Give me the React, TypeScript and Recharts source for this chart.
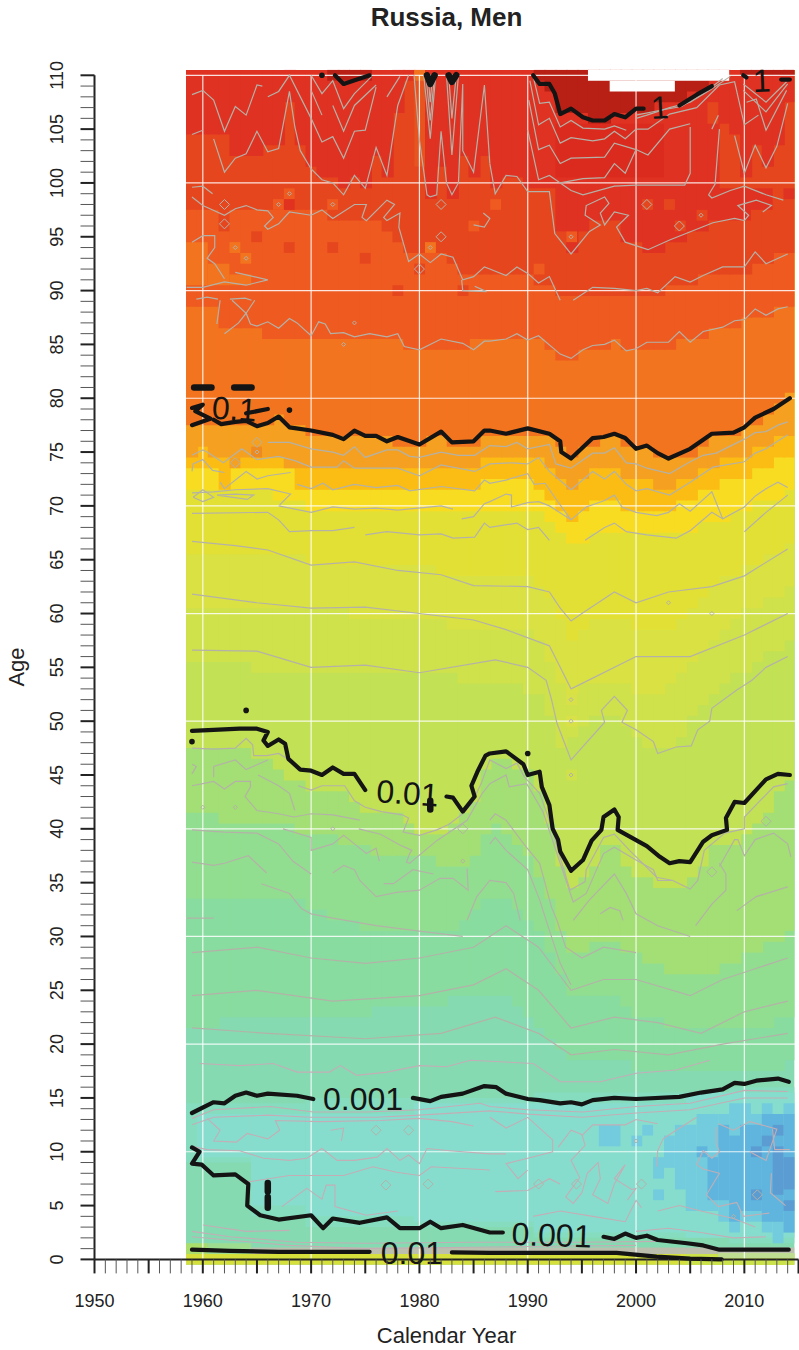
import { CSSProperties } from "react";
import { ReferenceArea, ReferenceLine, Scatter, ScatterChart, XAxis, YAxis } from "recharts";

const sansFont = "'Liberation Sans', Arial, sans-serif";

const yearTicks = Array.from({ length: 66 }, (_, i) => 1950 + i);
const ageTicks = Array.from({ length: 111 }, (_, i) => i);
const gridYears = [1960, 1970, 1980, 1990, 2000, 2010];
const gridAges = [10, 20, 30, 40, 50, 60, 70, 80, 90, 100, 110];

const baseColor = "#85DAB2";
// lower age edge of each colour, one value per year 1959..2014, painted bottom up
const levelColors = [
  "#88DC9F", "#92DE90", "#A3DF74", "#C2E155", "#CFE14B", "#DAE143", "#E3E035", "#F8DC22",
  "#FBBD14", "#F5A020", "#F3741F", "#EE5A20", "#E6461E", "#DF3222", "#B82015",
];
const levelLows = [
  [21.5,21.5,21.5,22.5,22.5,22.5,22.5,22.5,22.5,22.5,22.5, 22.5,22.5,22.5,22.5,22.5,22.5,23.5,23.5,23.5,23.5, 23.5,23.5,23.5,24.5,24.5,24.5,24.5,24.5,24.5,23.5, 22.5,21.5,20.5,19.5,18.5,18.5,18.5,18.5,18.5,18.5, 17.5,17.5,17.5,17.5,17.5,17.5,17.5,17.5,17.5,17.5, 17.5,17.5,17.5,17.5,18.5],
  [33.5,33.5,33.5,33.5,33.5,33.5,33.5,33.5,33.5,33.5,33.5, 32.5,32.5,31.5,31.5,31.5,30.5,30.5,30.5,30.5,30.5, 30.5,30.5,30.5,30.5,31.5,32.5,33.5,33.5,33.5,32.5, 31.5,30.5,28.5,26.5,24.5,24.5,24.5,24.5,24.5,23.5, 22.5,22.5,22.5,21.5,21.5,21.5,21.5,21.5,21.5,21.5, 21.5,21.5,21.5,22.5,22.5],
  [41.5,41.5,41.5,40.5,40.5,40.5,40.5,40.5,40.5,40.5,39.5, 39.5,39.5,39.5,38.5,38.5,38.5,37.5,37.5,37.5,37.5, 37.5,37.5,36.5,36.5,36.5,37.5,39.5,40.5,39.5,38.5, 37.5,35.5,33.5,30.5,28.5,28.5,29.5,29.5,29.5,28.5, 28.5,27.5,27.5,26.5,26.5,26.5,26.5,26.5,27.5,27.5, 28.5,28.5,29.5,29.5,30.5],
  [47.5,47.5,47.5,47.5,47.5,47.5,46.5,46.5,45.5,44.5,44.5, 43.5,43.5,43.5,43.5,42.5,41.5,41.5,41.5,41.5,40.5, 39.5,39.5,39.5,40.5,41.5,42.5,45.5,46.5,46.5,45.5, 45.5,43.5,40.5,36.5,34.5,35.5,36.5,38.5,38.5,36.5, 35.5,35.5,34.5,34.5,34.5,35.5,36.5,38.5,38.5,38.5, 39.5,40.5,41.5,43.5,44.5],
  [55.5,55.5,55.5,55.5,55.5,55.5,54.5,54.5,54.5,54.5,54.5, 54.5,54.5,54.5,54.5,54.5,54.5,54.5,54.5,54.5,54.5, 54.5,54.5,54.5,54.5,53.5,53.5,53.5,53.5,53.5,53.5, 52.5,52.5,50.5,47.5,48.5,49.5,50.5,50.5,50.5,49.5, 48.5,47.5,47.5,47.5,48.5,50.5,51.5,52.5,53.5,54.5, 54.5,55.5,56.5,56.5,57.5],
  [60.5,60.5,60.5,60.5,60.5,60.5,60.5,60.5,60.5,60.5,60.5, 60.5,60.5,60.5,60.5,59.5,59.5,59.5,59.5,59.5,59.5, 59.5,59.5,59.5,58.5,58.5,58.5,58.5,58.5,58.5,58.5, 58.5,57.5,55.5,53.5,52.5,53.5,53.5,53.5,53.5,53.5, 52.5,52.5,52.5,53.5,54.5,55.5,56.5,57.5,58.5,59.5, 60.5,60.5,61.5,61.5,62.5],
  [65.5,65.5,65.5,65.5,65.5,65.5,65.5,65.5,65.5,65.5,65.5, 64.5,64.5,64.5,64.5,64.5,64.5,64.5,64.5,64.5,64.5, 64.5,64.5,63.5,63.5,63.5,63.5,63.5,63.5,63.5,63.5, 63.5,62.5,61.5,59.5,57.5,58.5,59.5,59.5,59.5,59.5, 58.5,58.5,58.5,58.5,59.5,60.5,61.5,62.5,63.5,63.5, 64.5,64.5,65.5,65.5,66.5],
  [71.5,71.5,71.5,71.5,71.5,71.5,71.5,71.5,70.5,70.5,70.5, 69.5,69.5,69.5,69.5,69.5,69.5,69.5,69.5,69.5,69.5, 69.5,69.5,69.5,69.5,69.5,69.5,69.5,69.5,69.5,69.5, 69.5,69.5,68.5,67.5,66.5,66.5,67.5,67.5,67.5,67.5, 67.5,67.5,67.5,67.5,67.5,67.5,68.5,68.5,68.5,69.5, 69.5,70.5,70.5,70.5,71.5],
  [73.5,73.5,73.5,71.5,73.5,73.5,73.5,73.5,73.5,73.5,71.5, 71.5,71.5,71.5,71.5,71.5,71.5,71.5,71.5,71.5,71.5, 71.5,71.5,71.5,71.5,71.5,71.5,72.5,72.5,72.5,72.5, 72.5,71.5,70.5,69.5,68.5,69.5,70.5,70.5,70.5,69.5, 69.5,69.5,69.5,69.5,70.5,70.5,71.5,71.5,72.5,72.5, 72.5,73.5,73.5,74.5,74.5],
  [74.5,75.5,74.5,74.5,74.5,74.5,74.5,74.5,74.5,73.5,73.5, 73.5,73.5,73.5,73.5,73.5,73.5,73.5,73.5,73.5,73.5, 73.5,73.5,73.5,73.5,73.5,73.5,74.5,74.5,74.5,74.5, 74.5,74.5,73.5,72.5,71.5,72.5,73.5,73.5,73.5,72.5, 72.5,72.5,71.5,71.5,72.5,72.5,73.5,73.5,74.5,74.5, 74.5,75.5,75.5,76.5,76.5],
  [77.5,77.5,77.5,77.5,77.5,77.5,77.5,77.5,78.5,77.5,77.5, 76.5,76.5,76.5,76.5,76.5,76.5,76.5,76.5,75.5,75.5, 75.5,76.5,76.5,75.5,75.5,75.5,76.5,76.5,76.5,76.5, 76.5,76.5,76.5,75.5,74.5,75.5,75.5,76.5,76.5,75.5, 75.5,75.5,74.5,74.5,74.5,74.5,75.5,76.5,76.5,76.5, 77.5,77.5,78.5,79.5,80.5],
  [88.5,88.5,88.5,86.5,86.5,86.5,86.5,85.5,85.5,85.5,85.5, 85.5,85.5,85.5,85.5,85.5,85.5,85.5,85.5,85.5,84.5, 84.5,84.5,84.5,84.5,84.5,85.5,85.5,85.5,85.5,85.5, 85.5,85.5,84.5,83.5,83.5,84.5,84.5,84.5,85.5,84.5, 84.5,84.5,84.5,84.5,85.5,85.5,85.5,86.5,86.5,86.5, 87.5,87.5,87.5,88.5,88.5],
  [97.5,97.5,97.5,97.5,97.5,97.5,97.5,97.5,97.5,97.5,97.5, 97.5,97.5,96.5,96.5,96.5,96.5,96.5,95.5,94.5,93.5, 93.5,93.5,93.5,92.5,91.5,91.5,91.5,91.5,91.5,91.5, 91.5,90.5,90.5,89.5,89.5,89.5,89.5,89.5,89.5,89.5, 89.5,89.5,89.5,90.5,90.5,90.5,91.5,91.5,91.5,91.5, 91.5,92.5,92.5,93.5,93.5],
  [104.5,104.5,104.5,104.5,102.5,102.5,102.5,103.5,103.5,107.5,103.5, 101.5,100.5,100.5,99.5,100.5,99.5,102.5,100.5,106.5,109.5, 101.5,98.5,101.5,98.5,102.5,100.5,102.5,99.5,100.5,100.5, 99.5,99.5,99.5,95.5,93.5,95.5,96.5,96.5,96.5,94.5, 94.5,93.5,93.5,94.5,94.5,95.5,95.5,96.5,105.5,104.5, 100.5,103.5,101.5,103.5,107.5],
  [111,111,111,111,111,111,111,111,111,111,111, 111,111,109.5,109.5,109.5,109.5,111,111,111,111, 111,111,111,111,111,111,111,111,111,111, 111,109.5,108.5,106.5,106.5,106.5,105.5,105.5,106.5,106.5, 106.5,106.5,107.5,107.5,107.5,108.5,108.5,109.5,111,111, 110,110,110,110,110],
];

// from year, to year, from age, to age, colour
const heatBlocks: [number, number, number, number, string][] = [
  [1959, 1964, 9, 14.5, "#85DCBE"], [1965, 1969, 4, 14.5, "#85DCBE"], [1970, 1990, 3, 15, "#85DCBE"],
  [1991, 2008, 2, 15.5, "#85DCBE"], [2009, 2014, 1.5, 16, "#85DCBE"],
  [1960, 1964, 9.5, 13.5, "#87DDCD"], [1965, 1969, 5, 13.5, "#87DDCD"], [1970, 1979, 4, 13.5, "#87DDCD"],
  [1980, 1990, 3.5, 14.5, "#87DDCD"], [1991, 2004, 2.5, 14.5, "#87DDCD"], [2005, 2014, 2, 15.5, "#87DDCD"],
  [1959, 1960, 0.5, 1.5, "#A9DE6C"], [1961, 1964, 0.5, 1.5, "#9EDD90"], [1965, 2014, 0.5, 1.1, "#BCBFAE"],
  [1959, 2014, -0.5, 0.5, "#D6E03C"], [2005, 2014, -0.5, 0.5, "#CBE24A"], [2008, 2014, 0.1, 0.6, "#BEDD90"],
  // light blue
  [2002, 2002, 7.5, 9.5, "#72CCDD"], [2003, 2003, 8.5, 11.5, "#72CCDD"], [2004, 2004, 6.5, 12.5, "#72CCDD"],
  [2005, 2005, 4.5, 12.5, "#72CCDD"], [2006, 2007, 4.5, 13.5, "#72CCDD"], [2008, 2008, 3.5, 13.5, "#72CCDD"],
  [2009, 2009, 2.5, 14.5, "#72CCDD"], [2010, 2010, 3.5, 14.5, "#72CCDD"], [2011, 2011, 3.5, 13.5, "#72CCDD"],
  [2012, 2012, 2.5, 14.5, "#72CCDD"], [2013, 2013, 1.5, 13.5, "#72CCDD"], [2014, 2014, 2.5, 14.5, "#72CCDD"],
  [1997, 1998, 10.5, 12.5, "#72CCDD"], [2000, 2000, 10.5, 11.5, "#72CCDD"], [2001, 2001, 11.5, 12.5, "#72CCDD"],
  [2002, 2002, 5.5, 6.5, "#72CCDD"],
  // blue
  [2006, 2006, 9.5, 10.5, "#5FB5DD"], [2007, 2007, 5.5, 9.5, "#5FB5DD"], [2008, 2008, 5.5, 12.5, "#5FB5DD"],
  [2009, 2009, 4.5, 11.5, "#5FB5DD"], [2010, 2010, 4.5, 12.5, "#5FB5DD"], [2011, 2011, 4.5, 12.5, "#5FB5DD"],
  [2012, 2013, 3.5, 13.5, "#5FB5DD"], [2014, 2014, 2.5, 13.5, "#5FB5DD"], [2009, 2009, 3.5, 4.5, "#5FB5DD"],
  // deep blue
  [2012, 2012, 10.5, 11.5, "#5B9DD3"], [2013, 2013, 11.5, 12.5, "#5B9DD3"], [2013, 2013, 6, 10.5, "#5B9DD3"],
  [2014, 2014, 6.5, 9.5, "#5B9DD3"], [2014, 2014, 4.5, 5.5, "#5B9DD3"], [2011, 2011, 9.5, 10.5, "#5B9DD3"],
  [2011, 2011, 5.5, 6.5, "#5B9DD3"],
  // lone cells in the upper ages
  [1959, 1960, 90.5, 94.5, "#F3741F"], [1961, 1962, 90.5, 92.5, "#F3741F"], [1963, 1964, 90.5, 91.5, "#F3741F"],
  [1962, 1962, 97.5, 98.5, "#E6461E"], [1962, 1962, 95.5, 97.5, "#E6461E"], [1965, 1965, 94.5, 95.5, "#E6461E"],
  [1968, 1968, 97.5, 98.5, "#E0321F"], [1968, 1968, 93.5, 94.5, "#E6461E"], [1972, 1972, 93.5, 94.5, "#E6461E"],
  [1975, 1975, 92.5, 93.5, "#E6461E"], [1978, 1978, 89.5, 90.5, "#E6461E"], [1984, 1984, 89.5, 90.5, "#E6461E"],
  [1980, 1980, 91.5, 92.5, "#E6461E"], [1963, 1963, 93.5, 94.5, "#F3741F"], [1964, 1964, 92.5, 93.5, "#F3741F"],
  [1981, 1981, 93.5, 94.5, "#F3741F"], [1985, 1985, 95.5, 96.5, "#EE5A20"],
  [1967, 1967, 97.5, 98.5, "#EE5A20"], [1968, 1968, 98.5, 99.5, "#EE5A20"], [1972, 1972, 97.5, 98.5, "#EE5A20"],
  [1987, 1987, 97.5, 98.5, "#EE5A20"], [1991, 1991, 91.5, 92.5, "#EE5A20"], [1994, 1994, 94.5, 95.5, "#EE5A20"],
  [2001, 2001, 97.5, 98.5, "#E6461E"], [2003, 2003, 97.5, 98.5, "#E6461E"], [2004, 2004, 95.5, 96.5, "#E6461E"],
  [2006, 2006, 96.5, 97.5, "#E6461E"], [2014, 2014, 98.5, 99.5, "#DF3222"],
  [1980, 1980, 101.5, 110.5, "#E85420"], [1980, 1980, 109.5, 110.5, "#F3741F"], [2007, 2007, 105.5, 107.5, "#E6461E"],
  [2008, 2010, 96.5, 99.5, "#DF3222"], [2011, 2012, 97.5, 99.5, "#DF3222"], [1993, 2002, 100.5, 105.5, "#DB2B1E"],
  [1965, 1965, 74.5, 75.5, "#EE8A20"], [1963, 1963, 73.5, 74.5, "#F5A020"],
  [1994, 1994, 51.5, 52.5, "#D8E248"], [1994, 1994, 49.5, 50.5, "#D8E248"], [1994, 1994, 44.5, 45.5, "#CFE14B"],
  // cut off at the top of the surface
  [1996, 2008, 109.5, 110.5, "#FFFFFF"], [1998, 2003, 108.5, 109.5, "#FFFFFF"],
];

// grey contours: flat year, age pairs
const upperContours = [
  [1959,108.2,1960,108.6,1961,107.7,1962,104.8,1963,107.1,1964,106.3,1965,109.1,1965.5,109],
  [1959,104.5,1960,104.9],
  [1961,104.1,1962,101,1963,102.3,1964,102.7,1965,104.8,1966,102.9,1967,103.2,1968,108.5,1968.5,105.2,1969,103,1970,101.3,1971,100.3,1972,100,1973,98.9,1974,100.7,1975,99.5,1976,103.3,1977,100.7,1978,107.2,1979,110],
  [1966,108,1967,108.5,1968,110,1970,106,1971,103.8,1972,104.3,1973,102.3,1974,104.8,1975,104.9,1976,108.9],
  [1970,108.6,1971,106.3],
  [1972,107.2,1973,104.8,1974,107.2,1976,109.1],
  [1970,110,1971,108.3,1972,109.5,1973,106.9,1974,108.3,1975.6,109.9],
  [1977,108,1978.2,109.9],
  [1979.5,110,1980,104,1980.7,98.9,1981,98.7,1981.6,98.9,1982,104.8,1982.5,100,1983,98.9,1983.6,100,1984,109.2,1984,103,1985,101,1986,109.1,1986.5,101.8],
  [1980.4,110,1981,104.1,1981.5,110],
  [1980.6,110,1981,105.8,1981.4,110],
  [1980.8,110,1981,107.5,1981.2,110],
  [1982.5,110,1983,102.6,1983.6,110],
  [1982.7,110,1983,106,1983.4,110],
  [1986.5,101.8,1987,99,1988,100.7,1989,100.6,1990,99.2,1992,99.2,1992.5,95.3,1994,93.4,1995.7,95.5,1996.7,96.1,1995.3,97,1995.4,97.9,1997.1,98.7,1997.5,98.1,1996.7,97.2,1997.1,96.1,1998,97.3,1999.3,97,1998.2,95.9,1999,94.5,2001.1,93.8,2003.1,94.7,2007.1,96.3,2009.1,96.7,2010,96.5,2010.4,97,2009.4,97.9,2011.1,98.4,2012.5,97.9,2011.7,97.3],
  [1994.2,89.1,1996,90.3,1998,90.2,2000,90,2001,90.2,2002,89.8,2003.6,91.3,2005,90.8,2006.2,91.4,2008,92.2,2010,92.2,2011,93.6,2012,92.5,2014,93.4],
  [1990.5,109.9,1991.1,107.4,1992,107.5,1993,105.2,1994,105.8,1995.1,105.1,1997.1,105,1998,105.3,1999.1,104.9],
  [1990.2,109.5,1991,105.4,1992,106,1993,103.7,1994,104.2,1996,103.9,1997.1,104.1,1998,104.8,1999,104.1,2000,105,2001.1,105,2003.1,106.4,2005.6,107,2007.7,109.1,2009.1,109.4,2010,105.4,2011.3,106.3],
  [1990.1,107.7,1991,103.1,1992,103.5,1993,101.8,1994,102.3,1997.1,102.4,1998,103.7,2000,103.1,2001.1,102.6,2003.1,105,2005,105.5],
  [1990,104.9,1991,100.3,1992,100.7,1993,100,1995.1,100.4,1997.1,100.5,1998,101.8,1999,100.9,2000,103.1],
  [2005,105.2,2005,100.9,2004.5,99.8,2000,99.8,1998,99.7,1995.1,98.9,1994,99.3,1993,100],
  [2000,106,2001,106.3,2003.1,107,2005,107.5,2006.8,108.6,2008.7,109.9],
  [2000,106.3,2002.5,106.8,2004.2,107.1,2006.2,108.3,2008,109.7],
  [2007,105,2007.6,106.3],
  [2007.7,105,2007.3,99.9,2006.7,98.9,2007,98.6,2008.7,99.3,2010,99.7,2012,98.9,2013.6,98.4],
  [2009.1,104.4,2010,100.9,2011,103.5,2012,101.4,2013,103.4,2014,107.4],
  [2010.2,107.5,2011.1,107.8,2012,104.9,2013.9,108.6],
  [2009.9,108.6,2012,106.6,2014,109.2],
  [2009.9,109.2,2012,107.5,2013.9,109.4],
  [1959,99.6,1960,99.7,1960.9,99],
  [1959,98.7,1960,97.9,1962,97,1963,97.6,1964,97.9,1965,97.5,1966,97.4,1966.5,96.8,1965.7,96,1966,95.7,1967,96.2,1968,97.3,1970,97,1971,97.5,1972,96.7,1974,98,1975.1,98,1974.7,96.8,1975.1,96.5,1977,98.4,1977.7,98,1976.7,96.8,1977,96.5,1978.2,97.2,1978.1,95.9,1979,92.7,1980,93.4,1981,92.6,1982,93.4,1983.1,93.1,1984,91,1985,91.3,1986,92.2,1986.5,92,1988,91.4,1989,92.2,1990,91.6,1991,90.7,1992,91.3,1993,89.1],
  [1959,94.5,1960,95.1,1961.1,95.1,1961.1,94,1960.4,93,1961.1,92.5,1962,91.1],
  [1958.5,90.3,1960,90.3,1962,90.8,1964,90.5,1966,91,1963,91.7],
  [1983.9,91,1984,90,1986.2,89.9,1985.1,90.4],
  [1985,96.1,1986,95.9,1986.5,96.7,1985.9,97.2],
  [1964.8,89.1,1964,87.9,1964.4,86.9,1965,86.7,1966,87.1,1967,86.5,1968,87.4,1968.7,87,1970,85.8,1970.7,87.1,1971.3,86.9,1971.8,86,1973,86.1,1974,85.7,1975.4,86,1977,85.7,1978,86,1978.6,84.8,1980,84.5,1982,85.5,1984,85.1,1985,84.5,1986,85.3,1986.5,85.3,1988,85.5,1989,86,1990,85.4,1991,85.8,1993,84.1,1994,83.7,1995.1,84.5,1996,84.9,1997.1,85,1998,85.4,1999.1,84.4,2000,84.6,2001,85.2,2003,85.2,2004,86.2,2005,85.2,2006.2,86.2,2008,86.6,2009.1,87.2,2010,87.3,2011,88.3,2012,87.7,2013.1,88.3,2014,88.5],
  [1962,86,1963.3,87,1964,87.9,1962.7,89.1],
  [1961.3,86.9,1961.6,89.1],
  [1959.4,89.2,1960.4,89.4,1961.4,89.2],
  [1962.5,89.2,1963.9,89.3,1964.5,89.1],
  [1966,75.9,1968,75.9,1970,75.3,1972,75,1973,74.7,1974,75.5,1975,74.5,1977,75.2,1978,75.2,1979.1,74.6,1980,74.5,1982,75,1983.6,74.7,1985.1,74.7,1986.5,75.6,1988,75.5,1989,75.9,1990,75.3,1992,75.7,1992.6,73.9,1994,73.5,1996,74.9,1997.1,74.9,1998,75.4,1999.1,74,2000,73.9,2001,73.5,2003.1,73,2005,74.1,2006.2,74.7,2007.4,74.9,2010,76.2,2011,76.8,2012,76.9,2013.1,77.5,2014,77.8],
  [1959,74.7,1960,75.2,1960.4,75,1961.9,74,1963.6,75.3,1965,74.3,1967,74.6,1968.5,74.2,1970,73.6,1972.4,73.6,1973,74.2,1974,73.5,1977,73.5,1978,73.5,1980,72.8,1982,73.8,1985.1,73.2,1986.5,73.9,1988.5,74,1990,73.9,1991,74.5,1992,73.2,1994,71.5,1996,73.2,1997.1,72.5,1998,73.2,1999.1,72,2000,71.4,2001,71.6,2003.1,71,2005,72.2,2007.1,73.6,2010,74.1,2011,74.9,2012,75.3,2014,76.6],
  [1959,73.2,1959.1,73.9,1960,74.3,1960.9,73.3,1962,73.1],
  [1961.6,72.2,1962,71.6,1964,73.2,1965,72.5,1966,72.8,1968.1,73.1],
  [1968.7,72,1970,71.6,1971.1,72.1,1972,71.5,1974,72,1976,71.7,1978,71.9,1979.1,71.4,1982,71.8,1985.1,71.4,1986,72.4,1986.5,72.1,1988,72.4,1990,73,1990.6,72,1991.6,72.1,1992.7,70.5,1994,68.7],
  [1959,71.2,1961,71.3,1963,71.5,1966,71.6,1968.1,71.1,1967.1,70.1],
  [1959.1,70.8,1960,71.5,1961,70.8,1960,70.4,1959.1,70.8],
  [1961.3,71,1963,71.1,1964.7,71,1964.1,70.6,1961.3,71],
  [1967,70,1970,69.4,1972,69.9,1974,69.7,1976,69.8,1978,69.6,1982,70,1983.1,69.7],
  [1959,69.3,1966,69.4,1967,68.7,1968,67.6,1970,67.7,1972,67.7,1974,68],
  [1975,67.3,1977,67.6,1980,67.3,1982,67.4,1983.1,67,1985.1,67.1,1986,68.4,1986.5,68,1989,68.4,1990,67.8,1991,68,1992,66.8],
  [1983.9,68.8,1985,69,1986,70.2,1986.5,70.4,1988,71.1,1988.5,71,1988.5,69.9,1990,70.3,1991,70.4,1992,70,1994,68.7,1995.4,69.9,1997.1,70.5,1998,71,1998.7,69.9,2000,69.4,2001.9,69.1,2003,69.4,2004,70.2,2005,69.5,2007,71.3,2008,68.8,2010,69.9,2011,70.9,2012,71.6,2013.1,72.2,2014,71.7],
  [1995.3,66.8,1997.1,68,1998,68.4,1999.1,67.6,2001,67.3,2003.7,67,2005,67.7,2007,69.4,2008,68.8],
  [2010,67.6,2012,69.4,2014,71],
];

const midContours = [
  [1959,66.7,1963,66.3,1966,65.9,1970,64.5,1974,64.8,1978,64,1982,63.6,1985,62.6,1990,62.5,1992,62,1993,60.5,1994,59.3,1995,60,1998,62,2000,61,2003,62,2007,62.5,2010,63.5,2014,66],
  [1959,61.8,1965,61,1970,60.5,1975,60.6,1980,60,1985,59.4,1988,58.5,1992,57,1993,55,1994,53,1996,54,2000,56,2005,56,2010,58,2014,60],
  [1959,56.6,1965,56.5,1970,55,1975,55.2,1980,54.5,1987,55.7,1990,55,1991.7,53.8,1992.2,52,1992.7,49.8,1994,46.4,1997.1,49.9,1996.8,51,1998,52.3,1999.2,51,1998.7,49.9,2000,49.2,2001.6,48.1,2002,47,2003.7,47.6,2005.1,47.7,2005.7,49.2,2006.8,50,2007,51.2,2009.3,52.9,2010.7,53.8,2012,55,2014,56],
  [1959,47.5,1961,47.4,1963,47.5,1964,48.4,1964.6,47.8,1964.7,46.8,1965.9,46.8,1967,47,1968,46.4],
  [1959,46,1959.4,45.8,1959,45.1],
  [1961,44.8,1961,45.8,1963,46.4,1964,45.5,1966,46.4],
  [1959,44,1960,44.2,1961,44.4,1962,43.7,1963,44.4,1964.4,44.4,1964.4,43.9,1963.9,43,1965,41.7,1967,41.4,1968.4,41.1,1970,41.4,1972,41.3,1974.5,40.8],
  [1965.1,45,1967,44,1968,43.3,1968.5,41.7],
  [1968.8,44,1970,43.6,1971,44,1973.1,44,1974,42.6,1975,42,1976.5,41.6,1978.4,41.3,1979,41,1978.5,39.7,1980,39.4,1981.6,39.9,1982.7,40.4,1984,41.4,1984.8,42.3,1985.7,44.2,1986.5,46.4,1988,45.6,1989,46.1,1989.7,44.8,1991.1,43.3,1992.2,40.2,1992.8,38,1993.9,34.3,1995.3,35.1,1995.4,36.2,1997,39.2,1998,39.5,1999.4,38,2001.9,35.5,2003.4,35.2,2005,34.4,2005.7,35.2,2006.3,38,2008.2,39.6,2010,40,2010,41.1,2012.7,43.9,2014,44.2],
  [1959,39.9,1962,39.7,1965,39.6,1967,38.6,1968.3,37,1970,35.8],
  [1967.4,40,1970,39.2,1970,38,1972,38.6,1973,39.4,1974,38.6,1975.1,37.7,1976,38.2,1976.3,37],
  [1974.4,40,1976.4,39.5,1978.2,38.5,1979.3,38,1979.1,37.7,1978.8,36.9,1979.1,36.8,1981.6,38.9,1984.4,40.8,1985.8,43.3,1986.5,44.2,1988,45,1988.3,43.9,1989.9,44.2,1991.4,41.6,1992.2,39.2,1993.1,36.5,1994.2,33.2,1995.4,34,1997,37.7,1998,38.3,2000,37.1,2001.6,36.2,2002,35.2,2003.4,35.2],
  [1959,36.9,1961,36.6,1962,36.8,1964.2,37.5,1965.9,35.9],
  [1965.4,34.9,1968,34,1969.1,32.6,1970,32.1,1972,31.7,1976,31,1980,30.5,1984,30],
  [1972,35.9,1973,36.6,1974,36.2,1974.5,35.2,1976,33.7,1977.9,34.1,1980,34.3,1981.9,35.4,1983.1,35.4,1984.5,34.3,1984.4,36.3],
  [1976.7,34.9,1977.6,34.9,1979.4,36.2,1981.3,35.8],
  [1958.5,31.7,1961,31.7],
  [1984.4,31.5,1985.3,33.7,1986.5,35.2,1988,35,1988.7,34,1989.3,31.5],
  [1986.5,40.8,1987,41.4,1988,40.8,1989.7,38.5,1991.1,36.8,1992.2,32.7,1992.7,31.5,1993.5,29,1995,28,1997,29,2000,28.5],
  [1986.5,38.6,1987,39.2,1988,38,1990,36.2,1991.1,33.4,1991.7,31.5,1993,27.5,1994,25.5],
  [1994.2,31.5,1995.7,33.4,1998,35.8,1999.1,34,2000,32.1,2002,31,2005,30],
  [1996.7,32.1,1997.6,32.7,1998.5,32.4,1998.8,31.5],
  [2007.7,36.5,2009.1,39,2009.4,39,2010,37.5,2011,39,2012.7,39.6,2014,38.6,2014.3,37.4],
  [2007.7,36.8,2008.3,35.8,2008.3,34.3,2007,33,2005.5,31],
  [2009.3,32.4,2011.1,33.7,2014,34.6],
  [1959,28.5,1965,29,1970,28,1975,27.5,1980,28,1985,29,1988,31,1991,29,1994,25,1997,26,2000,26,2005,24.5,2008,26,2011,27,2014,28],
  [1959,24.5,1965,25,1972,24,1980,24.5,1985,25.5,1988,27,1991,25,1994,21.5,1998,22.5,2002,22,2006,21,2010,23,2014,24],
  [1959,21.5,1966,21,1975,20.5,1982,21,1987,22.5,1991,21,1994,19,1998,19.5,2003,19,2008,20,2014,21],
];

const lowerContours = [
  [1959.7,18.2,1963.4,18,1966.5,18.2,1968.7,17.4,1971.7,17.4,1972.7,18,1974.2,17.1,1977,17.4,1980,18,1982.5,17.9,1984.7,18.5,1990.5,18.2,1993,16.5,1996.7,16.5,2000,17.3,2003.7,17.6,2006.8,18.5],
  [1959,13.1,1961,13.9,1966.2,14.2,1970.2,13.7,1975.1,13.7,1980,13.9,1985.6,14.5,1986.5,14.2,1990,13.9,1995.1,13.7,2000,14.2,2005,14.5,2010,15.7,2014,15.6],
  [1959,12.5,1961,13.2,1966,13.4,1970,13.2,1976,13.2,1980,13.4,1986.5,13.8,1990,13.5,1995,13.2,2000,13.6,2005,13.9,2010,15,2014,15],
  [1960.4,13.1,1961.6,12,1961,11,1963.1,10.9,1964.1,11.7,1966,11.2,1967.1,12,1966.7,12.9,1970.8,12.8,1976.4,12.9,1980,13.1,1983,12.8,1985,12.4],
  [1986.5,13.2,1988,12.2,1990,13.2,1992.3,11.1,1992.3,10,1990,9.4,1988,8.9,1989.1,7.5,1990,8.3],
  [1959,10.5,1960.4,10.2,1963.4,10.1,1965.6,9.4,1968,9.2,1969.6,9.4,1971,10.3,1972.4,9.2,1974,9.2,1976.1,9.5,1977,10.3,1978.2,9.2,1979,9.7,1980,8.9,1980.7,10.3,1982.8,10.1,1986.5,9.8,1988,9.8],
  [1964.2,7.2,1968,7.8,1970.5,7.8,1973,7.8,1975.7,8.6,1977.9,8.1,1980,7.8,1981.1,8.6,1986.5,8.3],
  [1967.3,4.9,1969.6,6.6,1971,5.6,1971.4,6.9,1972.2,6.9,1972.2,4.9,1975.1,4.1,1978,4.5],
  [1971.8,12,1973,12.2,1972.8,11],
  [1992.8,10.4,1994,12,1995,11.6,1995.3,10.6,1994,9.2,1994.8,7.6,1993.5,5.8,1994.2,5.2,1995,6.2,1995.5,8,1996.5,9,1996.7,7.5,1996,6,1997.4,5.2,1998,7,1999,8.8,1998,7.5,1999.6,6.5,2000,6.6,1999.2,5.5],
  [1995,11.5,1996,12.5,1999,12.5,2000,13,2002,12.6],
  [1987,6.3,1990,6.4,1992,7.5,1993,7],
  [1990.5,4,1993,4.5,1996,4,1999,3.5,2000,5.5,2000.5,4.8],
  [2001.9,8.6,2002,10.1,2002.5,11.2,2003.7,12,2005.6,13.2],
  [2007.4,12.3,2007.4,10.8,2007.7,10,2007,9.4,2006.2,10.1,2005.6,8.8,2006.2,8.4,2007.7,8,2006.5,6,2007.6,4.9,2009.3,5.3,2009.9,4,2012.3,4.3],
  [2007.6,12.6,2009,12,2010.5,12.8,2013,12.1,2012,9.2,2010.5,10],
  [2012.6,12.1,2012.8,10.2,2014.2,10.2],
  [2012.5,8,2012.4,6.2,2013.8,5],
  [2002,4.5,2004,5,2006,4.5,2009,3.8,2011,3],
  [2000,2.6,2003,2.9,2006,2.5,2009,2,2012,2.1],
  [1959,2.6,1962.5,2.1,1968.7,1.6,1975,1.5,1985,1.6,1995,1.6,2004,1.7],
  [1959,2.1,1968,1.3,1975,1,1990,1.2,2000,1.3],
  [1960,3.2,1964,2.6,1968,2.7],
];

const smallLoops = [
  [1967,98],[1968,99],[1972,98],[1963,94],[1964,93],[1981,94],[1973,85],[1974,87],[1965,75],[1994,95],[2006,97],
  [1960,42],[1963,42],[1972,40],[1984,37],[2000,11],[2009,4],[1994,52],[1994,50],[1994,45],[2003,61],[2007,60],
];
const bigLoops = [
  [1962,98],[1962,96.2],[1980,92],[1982,95],[1982,98],[2001,98],[2004,96],[1965,75.9],[1963,74],[1984,40],[2007,36],[2012,40.7],
  [1976,12],[1979,12],[1976.9,6.9],[1980.8,7],[1991,7],[1994.5,7],[2000.5,7],[2011.2,6],
];

const blackLines = [
  [1959,49.1,1961,49.2,1963.4,49.3,1965,49.3,1966,49,1965.6,48.2,1966,47.7,1967,48.3,1967.6,47.9,1967.9,46.5,1969,45.5,1970,45.4,1971,45,1972,45.7,1973,45.1,1974,45.1,1975,43.6],
  [1982.5,43,1983.1,42.9,1984,41.6,1985.1,43,1984.8,44,1985.4,45.4,1986.1,46.8,1986.5,47,1988,47.2,1989.6,46,1990,45,1991.1,45.3,1991.3,43.9,1992,42.2,1992.3,40,1992.8,39,1993,37.9,1994,36.1,1995.1,37.1,1995.9,38.9,1996.8,39.9,1997,41.1,1998,41.8,1998.4,41.1,1998.3,39.9,2001,38.4,2002.2,37.4,2003.1,36.8,2004,37,2005,36.9,2006.2,38.8,2007,39.4,2008.4,39.9,2008.3,41,2009.1,42.5,2010,42.4,2012,44.6,2013.1,45.1,2014.2,45],
  [1959,77.5,1960.7,78.1,1959.3,78.8,1960,79.4,1959,79.1],
  [1961,78,1961.7,77.6,1963,77.8,1964,77.9,1965,77.4,1966,77.7,1967,78.3,1968,77.3,1970,77,1972,76.6,1973,76.2,1974,77,1975,76.5,1976,76.5,1977,76,1978,76.4,1980,75.7,1982,76.9,1983,75.9,1985,76,1986,77,1986.5,77,1988,76.7,1990,77.2,1992,76.7,1993,76,1993.1,75,1994,74.4,1996,76.3,1997,76.4,1998,76.7,1999,76.3,2000,75.3,2001,75.6,2002,74.9,2003,74.4,2005,75.3,2007,76.7,2009,76.8,2010,77.3,2011,78.2,2012.7,79,2014.2,80],
  [1964,78.6,1966,79],
  [1959,13.6,1961,14.6,1962,14.5,1963,15.2,1964,15.5,1965,15.2,1966,15.4,1968.7,15.2,1970.2,14.9],
  [1979.4,15,1981,14.7,1982,15.1,1984,15.4,1986,16.1,1987.1,16,1988,15.4,1990,14.9,1991.1,14.8,1993,14.5,1994,14.6,1995,14.4,1996,14.8,1998,15,2000,14.9,2004,15.1,2006,15.5,2008,15.8,2009.1,16.4,2010,16.3,2011.1,16.6,2013.1,16.8,2014.1,16.5],
  [1959,10.4,1959.7,10,1959,8.9,1959.9,8.8,1961,7.8,1963,7.9,1964.2,7,1964.1,5,1965.3,4.1,1967,3.7,1970,4.1,1971.1,2.9,1972,3.8,1974.5,3.4,1977,3.9,1978.2,2.9,1980,2.9,1981,3.5,1982,2.9,1984,3.2,1986.5,2.5,1987.7,2.5],
  [1997,2.1,1998,1.9,1999,2.4,2000,2,2001,2.2,2002,1.8,2004.7,1.5,2006.2,1.3,2007.7,0.9,2014.1,0.9],
  [1959,0.9,1962.5,0.8,1967,0.7,1975.4,0.7],
  [1983,0.65,1986.5,0.6,1992.7,0.6,1998.2,0.6,2001.9,0.25,2005,0.08,2007.9,0],
  [1972.2,110,1973,109.2,1975.4,110],
  [2009.9,110,2010.2,109.8],
  [2013.4,109.6,2014.2,109.6],
  [1990.5,110,1991.1,109.2,1992,109.2,1992.5,108.3,1993,106.4,1994,106.9,1995.1,106.1,1996,105.8,1997.1,105.8,1998,106.4,1999,106.1,2000,106.9,2000.7,106.9],
  [2004,107.2,2005.6,108.2,2007,109],
];
const blackBlobs = [
  [1959.2,81,1960.8,81],
  [1962.9,81,1964.5,81],
  [1966,7.1,1966,6.3],
  [1966,5.8,1966,4.8],
  [1980.7,110,1981,109.2,1981.4,110],
  [1982.7,110,1983,109.4,1983.4,110],
  [1981,42.6,1981,41.8],
];
const blackDots = [
  { year: 1959, age: 48.1 }, { year: 1964, age: 51 }, { year: 1981, age: 42 }, { year: 1990, age: 47 },
  { year: 1971, age: 110 }, { year: 1968, age: 78.9 },
];

const contourLabels = [
  { year: 1962.9, age: 79, text: "0.1", angle: 4 },
  { year: 1978.9, age: 43.3, text: "0.01", angle: 4 },
  { year: 1974.8, age: 14.9, text: "0.001", angle: 0 },
  { year: 1979.3, age: 0.55, text: "0.01", angle: 0 },
  { year: 1992.2, age: 2.25, text: "0.001", angle: 2 },
  { year: 2002.2, age: 107, text: "1", angle: -3 },
  { year: 2011.6, age: 109.5, text: "1", angle: -2 },
];

const toPoints = (flat: number[]) => {
  const points: { year: number; age: number }[] = [];
  for (let i = 0; i < flat.length; i += 2) points.push({ year: flat[i], age: flat[i + 1] });
  return points;
};

const noMark = () => <g />;

function YearTick({ x, y, payload }: any) {
  const major = payload.value % 5 === 0;
  return (
    <g>
      <line x1={x} x2={x} y1={y} y2={y + 14} stroke={major ? "#222" : "#555"} strokeWidth={major ? 2 : 1} />
      {payload.value % 10 === 0 ? (
        <text x={x} y={y + 48} textAnchor="middle" fontSize={18} fill="#222" fontFamily={sansFont}>
          {payload.value}
        </text>
      ) : null}
    </g>
  );
}

function AgeTick({ x, y, payload }: any) {
  const major = payload.value % 5 === 0;
  return (
    <g>
      <line x1={x - 14} x2={x} y1={y} y2={y} stroke={major ? "#222" : "#555"} strokeWidth={major ? 2 : 1} />
      {major ? (
        <text transform={`translate(${x - 31.5},${y}) rotate(-90)`} textAnchor="middle" fontSize={18} fill="#222" fontFamily={sansFont}>
          {payload.value}
        </text>
      ) : null}
    </g>
  );
}

function LoopMark({ cx, cy, r }: any) {
  return <path d={`M${cx - r} ${cy}L${cx} ${cy - r}L${cx + r} ${cy}L${cx} ${cy + r}Z`} fill="none" stroke="#B4B2A8" strokeWidth={1} />;
}

function ContourLabel({ cx, cy, payload }: any) {
  return (
    <text transform={`translate(${cx},${cy}) rotate(${payload.angle})`} textAnchor="middle" dominantBaseline="central" fontSize={32} fill="#141414" fontFamily={sansFont}>
      {payload.text}
    </text>
  );
}

const titleStyle: CSSProperties = {
  position: "absolute",
  left: 0,
  top: 2,
  width: 893,
  textAlign: "center",
  fontFamily: sansFont,
  fontWeight: 700,
  fontSize: 26,
  color: "#222",
};

const ageLabelStyle: CSSProperties = {
  position: "absolute",
  left: -13,
  top: 654,
  width: 60,
  textAlign: "center",
  transform: "rotate(-90deg)",
  fontFamily: sansFont,
  fontSize: 22,
  lineHeight: "26px",
  color: "#222",
};

export default function App() {
  const columnStart = (i: number) => 1958.45 + i * 1.003;

  return (
    <div style={{ position: "absolute", left: 0, top: 0, width: 799, height: 1350, background: "#fff" }}>
      <div style={titleStyle}>Russia, Men</div>
      <div style={ageLabelStyle}>Age</div>
      <ScatterChart width={799} height={1350} margin={{ top: 75.3, right: 0.5, bottom: 0, left: 0 }}>
        <ReferenceArea x1={columnStart(0)} x2={columnStart(56)} y1={-0.5} y2={40} fill={baseColor} fillOpacity={1} stroke="none" ifOverflow="visible" />
        {levelLows.map((lows, level) =>
          lows.map((low, i) =>
            low < 110.5 ? (
              <ReferenceArea
                key={`${level}-${i}`}
                x1={columnStart(i)}
                x2={i === 55 ? columnStart(56) : columnStart(i + 1) + 0.12}
                y1={low}
                y2={110.5}
                fill={levelColors[level]}
                fillOpacity={1}
                stroke="none"
                ifOverflow="visible"
              />
            ) : null,
          ),
        )}
        {heatBlocks.map(([from, to, low, high, color], i) => (
          <ReferenceArea
            key={`block-${i}`}
            x1={columnStart(from - 1959)}
            x2={columnStart(to - 1958)}
            y1={low}
            y2={high}
            fill={color}
            fillOpacity={1}
            stroke="none"
            ifOverflow="visible"
          />
        ))}
        {gridYears.map((year) => (
          <ReferenceLine key={year} x={year} stroke="#fff" strokeWidth={1.2} strokeOpacity={0.85} segment={[{ x: year, y: 0 }, { x: year, y: 110 }]} ifOverflow="visible" />
        ))}
        {gridAges.map((age) => (
          <ReferenceLine key={age} y={age} stroke="#fff" strokeWidth={1.2} strokeOpacity={0.85} segment={[{ x: 1958.45, y: age }, { x: 2014.65, y: age }]} ifOverflow="visible" />
        ))}
        <XAxis
          type="number"
          dataKey="year"
          domain={[1950, 2015]}
          ticks={yearTicks}
          interval={0}
          height={90.6}
          tickSize={0}
          tickMargin={0}
          tickLine={false}
          tick={YearTick}
          axisLine={{ stroke: "#222", strokeWidth: 2 }}
          label={{ value: "Calendar Year", position: "insideBottom", offset: 7, fontSize: 22, fill: "#222", fontFamily: sansFont }}
        />
        <YAxis
          type="number"
          dataKey="age"
          domain={[0, 110]}
          ticks={ageTicks}
          interval={0}
          width={94.5}
          tickSize={0}
          tickMargin={0}
          tickLine={false}
          tick={AgeTick}
          axisLine={{ stroke: "#222", strokeWidth: 2 }}
        />
        {[...upperContours, ...midContours].map((flat, i) => (
          <Scatter key={`upper-${i}`} data={toPoints(flat)} shape={noMark} line={{ stroke: "#B4B2A8", strokeWidth: 1.2 }} isAnimationActive={false} />
        ))}
        {lowerContours.map((flat, i) => (
          <Scatter key={`lower-${i}`} data={toPoints(flat)} shape={noMark} line={{ stroke: "#C3AEB6", strokeWidth: 1.1 }} isAnimationActive={false} />
        ))}
        <Scatter data={smallLoops.map(([year, age]) => ({ year, age }))} shape={(p: any) => <LoopMark {...p} r={2} />} isAnimationActive={false} />
        <Scatter data={bigLoops.map(([year, age]) => ({ year, age }))} shape={(p: any) => <LoopMark {...p} r={5} />} isAnimationActive={false} />
        {blackLines.map((flat, i) => (
          <Scatter key={`black-${i}`} data={toPoints(flat)} shape={noMark} line={{ stroke: "#141414", strokeWidth: 4.2, strokeLinejoin: "round", strokeLinecap: "round" }} isAnimationActive={false} />
        ))}
        {blackBlobs.map((flat, i) => (
          <Scatter key={`blob-${i}`} data={toPoints(flat)} shape={noMark} line={{ stroke: "#141414", strokeWidth: 6.5, strokeLinejoin: "round", strokeLinecap: "round" }} isAnimationActive={false} />
        ))}
        <Scatter data={blackDots} shape={(p: any) => <circle cx={p.cx} cy={p.cy} r={2.8} fill="#141414" />} isAnimationActive={false} />
        <Scatter data={contourLabels} shape={ContourLabel} isAnimationActive={false} />
      </ScatterChart>
    </div>
  );
}
